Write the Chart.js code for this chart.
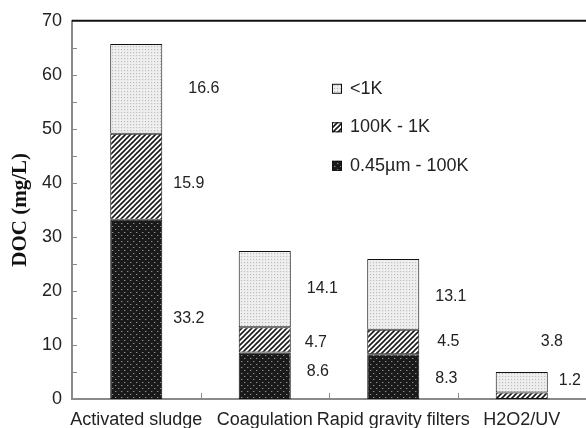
<!DOCTYPE html>
<html>
<head>
<meta charset="utf-8">
<script src="https://cdn.jsdelivr.net/npm/chart.js@4.4.0/dist/chart.umd.min.js"></script>
<style>
  html, body { margin: 0; padding: 0; background: #fff; }
</style>
</head>
<body>
<canvas id="doc-chart" width="586" height="428"></canvas>
<script>
// DOC fractions per treatment step (mg/L)
var categories = ['Activated sludge', 'Coagulation', 'Rapid gravity filters', 'H2O2/UV'];
var fractionNames = ['0.45µm - 100K', '100K - 1K', '<1K'];
var largeFraction = [33.2, 8.6, 8.3, 0];
var middleFraction = [15.9, 4.7, 4.5, 1.2];
var smallFraction = [16.6, 14.1, 13.1, 3.8];
var yTicks = [0, 10, 20, 30, 40, 50, 60, 70];

var canvas = document.getElementById('doc-chart');
var mainCtx = canvas.getContext('2d');

// fill patterns like the old excel ones
function makePattern(w, h, draw) {
  var c = document.createElement('canvas');
  c.width = w; c.height = h;
  draw(c.getContext('2d'), w, h);
  return mainCtx.createPattern(c, 'repeat');
}

var darkFill = makePattern(6, 6, function (g) {
  g.fillStyle = '#1a1a1a'; g.fillRect(0, 0, 6, 6);
  g.fillStyle = '#8e8e8e'; g.fillRect(1, 1, 1, 1); g.fillRect(4, 4, 1, 1);
  g.fillStyle = '#444'; g.fillRect(2, 1, 1, 1); g.fillRect(5, 4, 1, 1);
});
var hatchFill = makePattern(5, 5, function (g) {
  g.fillStyle = '#fff'; g.fillRect(0, 0, 5, 5);
  g.strokeStyle = '#1a1a1a'; g.lineWidth = 1.6;
  g.beginPath();
  g.moveTo(-1, 6); g.lineTo(6, -1);
  g.moveTo(-1, 1); g.lineTo(1, -1);
  g.moveTo(4, 6); g.lineTo(6, 4);
  g.stroke();
});
var lightFill = makePattern(3, 3, function (g) {
  g.fillStyle = '#ebebeb'; g.fillRect(0, 0, 3, 3);
  g.fillStyle = '#bcbcbc'; g.fillRect(1, 1, 1, 1);
  g.fillStyle = '#f7f7f7'; g.fillRect(0, 0, 1, 1);
});

var decorPlugin = {
  id: 'decor',
  afterDraw: function (chart, args, opts) {
    var ctx = chart.ctx, area = chart.chartArea;
    var xs = chart.scales.x, ys = chart.scales.y;
    ctx.save();

    // top frame line
    ctx.strokeStyle = '#111';
    ctx.lineWidth = 2;
    ctx.beginPath();
    ctx.moveTo(area.left, area.top);
    ctx.lineTo(area.right, area.top);
    ctx.stroke();

    // inward ticks on y axis
    ctx.strokeStyle = '#8a8a8a';
    ctx.lineWidth = 1;
    for (var v = ys.min + opts.minorStep; v < ys.max; v += opts.minorStep) {
      var py = Math.round(ys.getPixelForValue(v)) + 0.5;
      ctx.beginPath();
      ctx.moveTo(area.left, py);
      ctx.lineTo(area.left + 5, py);
      ctx.stroke();
    }
    // inward ticks between categories
    for (var i = 1; i < categories.length; i++) {
      var px = Math.round((xs.getPixelForValue(i - 1) + xs.getPixelForValue(i)) / 2) + 0.5;
      ctx.beginPath();
      ctx.moveTo(px, area.bottom);
      ctx.lineTo(px, area.bottom - 6);
      ctx.stroke();
    }

    // value labels next to each segment
    ctx.font = '16px "Liberation Sans", Arial, sans-serif';
    ctx.fillStyle = '#222';
    ctx.textAlign = 'left';
    ctx.textBaseline = 'middle';
    chart.data.datasets.forEach(function (ds, d) {
      var meta = chart.getDatasetMeta(d);
      ds.data.forEach(function (val, j) {
        if (!val) return;
        var el = meta.data[j];
        var nudge = opts.nudges[d][j];
        var lx = el.x + el.width / 2 + nudge[0];
        var ly = (el.y + el.base) / 2 + nudge[1];
        ctx.fillText(val.toFixed(1), lx, ly);
      });
    });

    // legend inside plot, reversed order
    ctx.font = '18px "Liberation Sans", Arial, sans-serif';
    var lx0 = area.left + opts.legendX, ly0 = area.top + opts.legendY;
    var n = chart.data.datasets.length;
    for (var k = 0; k < n; k++) {
      var ds2 = chart.data.datasets[n - 1 - k];
      var cy = ly0 + k * opts.legendGap;
      ctx.fillStyle = ds2.backgroundColor;
      ctx.fillRect(lx0, cy - 5, 10, 10);
      ctx.strokeStyle = '#111';
      ctx.strokeRect(lx0 + 0.5, cy - 4.5, 9, 9);
      ctx.fillStyle = '#222';
      ctx.fillText(ds2.label, lx0 + 18, cy);
    }
    ctx.restore();
  }
};

var common = {
  borderColor: '#111',
  borderWidth: 1,
  borderSkipped: false,
  barPercentage: 0.405,
  categoryPercentage: 1
};

var docChart = new Chart(canvas, {
  type: 'bar',
  data: {
    labels: categories,
    datasets: [
      Object.assign({ label: fractionNames[0], data: largeFraction, backgroundColor: darkFill }, common),
      Object.assign({ label: fractionNames[1], data: middleFraction, backgroundColor: hatchFill }, common),
      Object.assign({ label: fractionNames[2], data: smallFraction, backgroundColor: lightFill }, common)
    ]
  },
  options: {
    responsive: false,
    animation: false,
    devicePixelRatio: 1,
    layout: { padding: { top: 20, right: 0, left: 0, bottom: 0 } },
    plugins: {
      legend: { display: false },
      tooltip: { enabled: false },
      decor: {
        minorStep: 5,
        legendX: 260,
        legendY: 68,
        legendGap: 38.5,
        // [dx from bar right edge, dy from segment middle]
        nudges: [
          [[11, 9], [16, -4], [16, 2], [0, 0]],
          [[11, 7], [14, 3], [18, 0], [11, -15]],
          [[26, 0], [16, 0], [16, 2], [-7, -41]]
        ]
      }
    },
    scales: {
      x: {
        stacked: true,
        grid: { display: false, drawTicks: false },
        border: { display: true, color: '#8a8a8a', width: 2 },
        ticks: {
          color: '#222',
          padding: 10,
          maxRotation: 0,
          autoSkip: false,
          font: { family: '"Liberation Sans", Arial, sans-serif', size: 18 }
        },
        afterFit: function (s) { s.height = 29; }
      },
      y: {
        stacked: true,
        min: 0,
        max: 70,
        grid: { display: false, drawTicks: false },
        border: { display: true, color: '#8a8a8a', width: 2 },
        ticks: {
          color: '#222',
          padding: 10,
          font: { family: '"Liberation Sans", Arial, sans-serif', size: 18 }
        },
        afterBuildTicks: function (s) {
          s.ticks = yTicks.map(function (v) { return { value: v }; });
        },
        title: {
          display: true,
          text: 'DOC (mg/L)',
          color: '#111',
          padding: { top: 8, bottom: 0 },
          font: { family: '"Liberation Serif", "Times New Roman", serif', size: 21, weight: 'bold' }
        },
        afterFit: function (s) { s.width = 72; }
      }
    }
  },
  plugins: [decorPlugin]
});
</script>
</body>
</html>
